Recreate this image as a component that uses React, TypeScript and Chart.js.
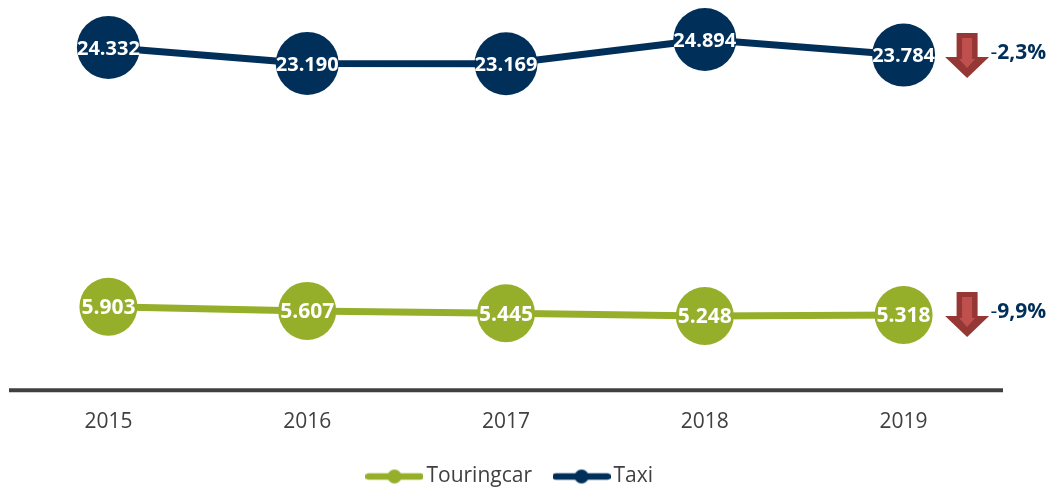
import React, { useEffect, useRef } from "react";
import { Chart, registerables } from "chart.js";

Chart.register(...registerables);

const years = ["2015", "2016", "2017", "2018", "2019"];
const touringcar = [5903, 5607, 5445, 5248, 5318];
const taxi = [24332, 23190, 23169, 24894, 23784];
const taxiChange = "2,3%";
const touringcarChange = "9,9%";

const NAVY = "#002F5A";
const GREEN = "#95AF2B";
const AXIS = "#404040";
const FONT = '"Open Sans"';

function legendMark(color: string) {
  const c = document.createElement("canvas");
  c.width = 58;
  c.height = 20;
  const g = c.getContext("2d")!;
  g.strokeStyle = color;
  g.fillStyle = color;
  g.lineWidth = 6.5;
  g.lineCap = "round";
  g.beginPath();
  g.moveTo(3, 10);
  g.lineTo(55, 10);
  g.stroke();
  g.beginPath();
  g.arc(29, 10, 7, 0, Math.PI * 2);
  g.fill();
  return c;
}

const fmt = (v: number) => String(v).replace(/(\d)(\d{3})$/, "$1.$2");

const overlay = {
  id: "overlay",
  afterLayout(chart: any) {
    chart.legend.left += 7;
    chart.legend.right += 7;
  },
  beforeDatasetsDraw(chart: any) {
    const ctx = chart.ctx;
    const a = chart.chartArea;
    ctx.save();
    ctx.strokeStyle = AXIS;
    ctx.lineWidth = 4;
    ctx.beginPath();
    ctx.moveTo(a.left, a.bottom + 0.5);
    ctx.lineTo(a.right, a.bottom + 0.5);
    ctx.stroke();
    ctx.restore();
  },
  afterDatasetsDraw(chart: any) {
    const ctx = chart.ctx;
    ctx.save();
    ctx.textAlign = "center";
    ctx.textBaseline = "middle";
    ctx.fillStyle = "#fff";
    chart.data.datasets.forEach((ds: any, i: number) => {
      ctx.font = `bold ${i === 0 ? 21 : 20}px ${FONT}`;
      chart.getDatasetMeta(i).data.forEach((pt: any, j: number) => {
        ctx.fillText(fmt(ds.data[j]), pt.x, pt.y + 1.5);
      });
    });
    const xs = chart.scales.x;
    const ys = chart.scales.y;
    const last = xs.getPixelForValue(4);
    const rows: [number, string, number][] = [
      [ys.getPixelForValue(taxi[4]), taxiChange, -22],
      [ys.getPixelForValue(touringcar[4]), touringcarChange, -23],
    ];
    rows.forEach(([py, label, off]) => {
      const top = py + off;
      const cx = last + 63.5;
      ctx.beginPath();
      ctx.moveTo(cx - 10.5, top);
      ctx.lineTo(cx + 10.5, top);
      ctx.lineTo(cx + 10.5, top + 24);
      ctx.lineTo(cx + 22, top + 24);
      ctx.lineTo(cx, top + 45);
      ctx.lineTo(cx - 22, top + 24);
      ctx.lineTo(cx - 10.5, top + 24);
      ctx.closePath();
      ctx.fillStyle = "#953735";
      ctx.fill();
      ctx.beginPath();
      ctx.moveTo(cx - 5, top + 5);
      ctx.lineTo(cx + 5, top + 5);
      ctx.lineTo(cx + 5, top + 26);
      ctx.lineTo(cx + 8, top + 26);
      ctx.lineTo(cx, top + 35);
      ctx.lineTo(cx - 8, top + 26);
      ctx.lineTo(cx - 5, top + 26);
      ctx.closePath();
      ctx.fillStyle = "#C0504D";
      ctx.fill();
      ctx.textAlign = "left";
      ctx.fillStyle = NAVY;
      ctx.font = `21px ${FONT}`;
      ctx.fillText("-", last + 87, top + 20);
      const w = ctx.measureText("-").width;
      ctx.font = `bold 21px ${FONT}`;
      ctx.fillText(label, last + 87 + w, top + 20);
    });
    ctx.restore();
  },
};

export default function App() {
  const ref = useRef<HTMLCanvasElement>(null);
  useEffect(() => {
    const chart = new Chart(ref.current!, {
      type: "line",
      plugins: [overlay],
      data: {
        labels: years,
        datasets: [
          { label: "Touringcar", data: touringcar, borderColor: GREEN, backgroundColor: GREEN, borderWidth: 7, pointRadius: 29, pointHoverRadius: 29, pointBorderWidth: 0, tension: 0, clip: false },
          { label: "Taxi", data: taxi, borderColor: NAVY, backgroundColor: NAVY, borderWidth: 7, pointRadius: 31.5, pointHoverRadius: 31.5, pointBorderWidth: 0, tension: 0, clip: false },
        ],
      },
      options: {
        responsive: false,
        animation: false,
        layout: { autoPadding: false, padding: { left: 9, right: 49, top: 0, bottom: -8 } },
        scales: {
          x: {
            offset: true,
            grid: { display: false, drawTicks: false },
            border: { display: false },
            ticks: { color: AXIS, font: { family: FONT, size: 21 }, padding: 20, maxRotation: 0 },
            afterFit: (s: any) => { s.height -= 17; },
          },
          y: { display: false, min: 0, max: 27700 },
        },
        plugins: {
          tooltip: { enabled: false },
          legend: {
            position: "bottom",
            labels: {
              usePointStyle: true,
              pointStyleWidth: 43,
              padding: 28,
              color: AXIS,
              font: { family: FONT, size: 21 },
              generateLabels: (ch: any) =>
                ch.data.datasets.map((d: any, i: number) => ({
                  text: d.label,
                  datasetIndex: i,
                  fontColor: AXIS,
                  pointStyle: legendMark(d.borderColor),
                  lineWidth: 0,
                })),
            },
          },
        },
      },
    } as any);
    return () => chart.destroy();
  }, []);
  return (
    <div style={{ position: "absolute", left: 0, top: 0, width: 1052, height: 489 }}>
      <canvas ref={ref} width={1052} height={489} style={{ display: "block" }} />
    </div>
  );
}
